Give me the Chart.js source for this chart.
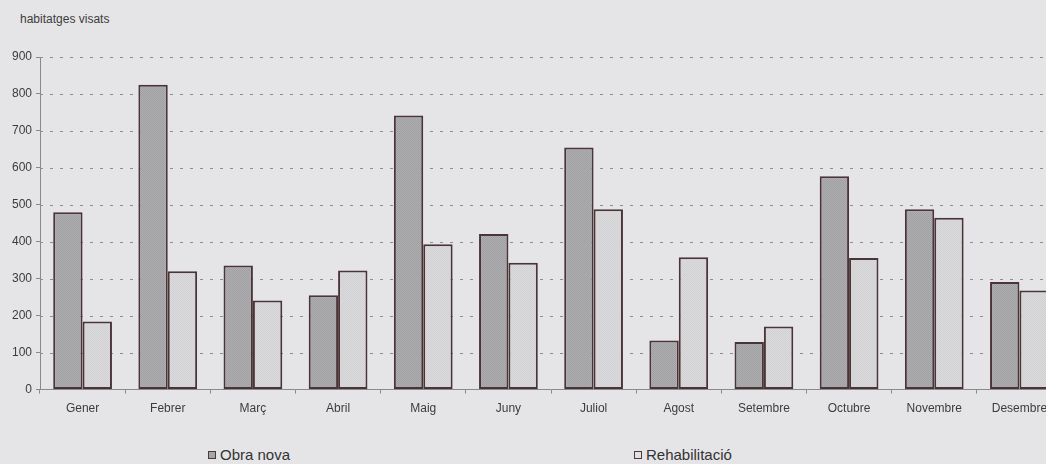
<!DOCTYPE html>
<html>
<head>
<meta charset="utf-8">
<title>Habitatges visats</title>
<script src="https://cdn.jsdelivr.net/npm/chart.js@4.4.1/dist/chart.umd.min.js"></script>
<style>
    html, body {
        margin: 0;
        padding: 0;
        width: 1046px;
        height: 464px;
        overflow: hidden;
        background: #e5e5e7;
        font-family: "Liberation Sans", Arial, sans-serif;
    }
    #wrap {
        position: absolute;
        left: 0;
        top: 0;
        width: 1064px;
        height: 424px;
    }
    #axis-title {
        position: absolute;
        left: 20px;
        top: 12px;
        font-size: 12px;
        color: #3c3c3c;
    }
    .legend-item {
        position: absolute;
        top: 446px;
        font-size: 15px;
        line-height: 18px;
        color: #333;
        white-space: nowrap;
    }
    .legend-box {
        display: inline-block;
        width: 6px;
        height: 6px;
        border: 1px solid #4a3a3c;
        margin-right: 4px;
        vertical-align: 1px;
    }
</style>
</head>
<body>
<div id="axis-title">habitatges visats</div>
<div id="wrap"><canvas id="chart"></canvas></div>
<div id="legend"></div>

<script>
// Monthly values
const months = ['Gener', 'Febrer', 'Març', 'Abril', 'Maig', 'Juny', 'Juliol', 'Agost', 'Setembre', 'Octubre', 'Novembre', 'Desembre'];
const obraNova = [480, 825, 336, 255, 742, 421, 655, 133, 129, 577, 488, 291];
const rehabilitacio = [184, 320, 241, 322, 393, 343, 488, 358, 171, 356, 465, 268];
const yTicks = [0, 100, 200, 300, 400, 500, 600, 700, 800, 900];

// Small stippled fills for the bars
function stipple(base, dot) {
    const c = document.createElement('canvas');
    c.width = 2;
    c.height = 2;
    const g = c.getContext('2d');
    g.fillStyle = base;
    g.fillRect(0, 0, 2, 2);
    g.fillStyle = dot;
    g.fillRect(0, 0, 1, 1);
    g.fillRect(1, 1, 1, 1);
    return g.createPattern(c, 'repeat');
}

const darkFill = stipple('#aeaeb0', '#a0a0a2');
const lightFill = stipple('#dadadc', '#d2d2d4');
const edge = '#4a3438';

const datasets = [
    { label: 'Obra nova', data: obraNova, backgroundColor: darkFill, legendColor: '#a6a6a8' },
    { label: 'Rehabilitació', data: rehabilitacio, backgroundColor: lightFill, legendColor: '#e2e2e4' }
];

// Legend entries
const legendPos = [208, 634];
const legend = document.getElementById('legend');
datasets.forEach((ds, i) => {
    const item = document.createElement('div');
    item.className = 'legend-item';
    item.style.left = legendPos[i] + 'px';
    item.innerHTML = `<span class="legend-box" style="background:${ds.legendColor}"></span>${ds.label}`;
    legend.appendChild(item);
});

const ctx = document.getElementById('chart').getContext('2d');
new Chart(ctx, {
    type: 'bar',
    data: {
        labels: months,
        datasets: datasets.map(ds => ({
            label: ds.label,
            data: ds.data,
            backgroundColor: ds.backgroundColor,
            borderColor: edge,
            borderWidth: 2,
            borderSkipped: false,
            categoryPercentage: 0.69,
            barPercentage: 1
        }))
    },
    options: {
        responsive: true,
        maintainAspectRatio: false,
        animation: false,
        layout: {
            padding: { top: 57, right: 2, left: 0, bottom: 0 }
        },
        scales: {
            y: {
                min: 0,
                max: 900,
                afterBuildTicks: axis => {
                    axis.ticks = yTicks.map(v => ({ value: v }));
                },
                afterFit: axis => {
                    axis.width = 40;
                },
                border: { color: '#8a8a8a', width: 1 },
                grid: {
                    drawOnChartArea: false,
                    tickLength: 4,
                    tickColor: '#8a8a8a'
                },
                ticks: {
                    padding: 4,
                    color: '#3c3c3c',
                    font: { family: '"Liberation Sans", Arial, sans-serif', size: 12 }
                }
            },
            x: {
                border: { color: '#8a8a8a', width: 1 },
                grid: {
                    drawOnChartArea: false,
                    tickLength: 4,
                    tickColor: '#8a8a8a'
                },
                ticks: {
                    padding: 8,
                    color: '#3c3c3c',
                    maxRotation: 0,
                    autoSkip: false,
                    font: { family: '"Liberation Sans", Arial, sans-serif', size: 12 }
                }
            }
        },
        plugins: {
            legend: { display: false },
            tooltip: { enabled: false }
        }
    },
    plugins: [{
        // dashed horizontal grid inside the plot
        id: 'dashedGrid',
        beforeDatasetsDraw(chart) {
            const { ctx, chartArea, scales } = chart;
            ctx.save();
            ctx.strokeStyle = '#8e8e8e';
            ctx.lineWidth = 1;
            ctx.setLineDash([3, 7]);
            yTicks.forEach(v => {
                if (v === 0) return;
                const y = Math.round(scales.y.getPixelForValue(v)) + 0.5;
                ctx.beginPath();
                ctx.moveTo(chartArea.left, y);
                ctx.lineTo(chartArea.right, y);
                ctx.stroke();
            });
            ctx.restore();
        }
    }]
});
</script>
</body>
</html>
